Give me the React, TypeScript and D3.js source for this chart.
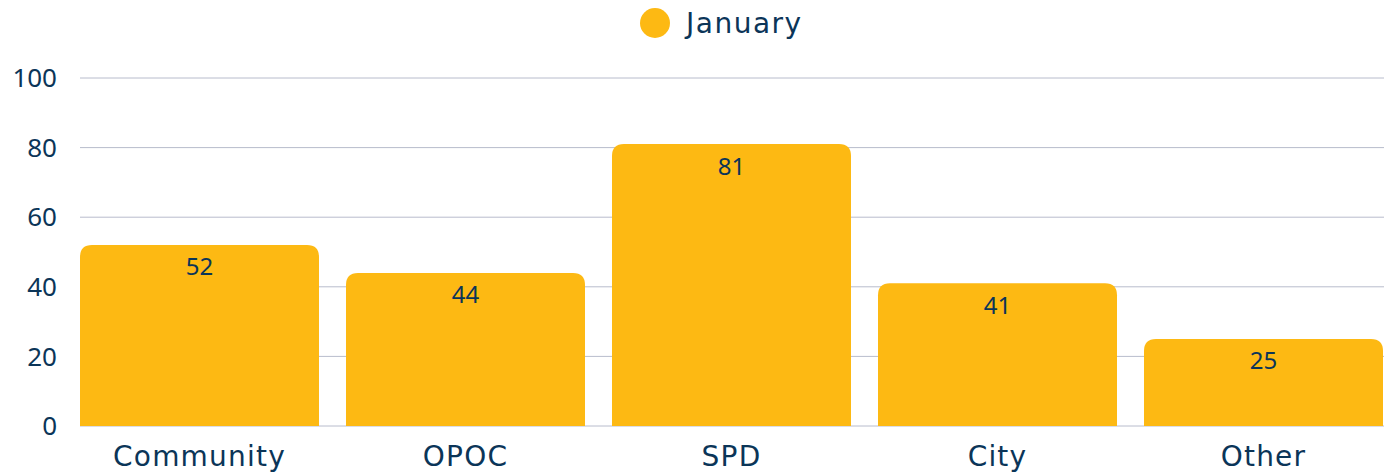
import { useMemo } from "react";
import * as d3 from "d3";

const WIDTH = 1384;
const HEIGHT = 474;
const MARGIN = { top: 78, right: 1, bottom: 48, left: 80 };

const categories = ["Community", "OPOC", "SPD", "City", "Other"];
const januaryValues = [52, 44, 81, 41, 25];
const yTicks = [0, 20, 40, 60, 80, 100];
const seriesName = "January";

const BAR_COLOR = "#FDB913";
const TEXT_COLOR = "#0b3558";
const GRID_COLOR = "#b8bccc";
const FONT = "'Noto Sans', 'Open Sans', sans-serif";
const WIDE_FONT = "'DejaVu Sans', 'Noto Sans', sans-serif";

// path for a bar with only its top corners rounded
const topRoundedBar = (x: number, y: number, w: number, h: number, r: number) => {
  const rr = Math.min(r, w / 2, h);
  return `M${x},${y + h}V${y + rr}Q${x},${y} ${x + rr},${y}H${x + w - rr}Q${x + w},${y} ${x + w},${y + rr}V${y + h}Z`;
};

const App = () => {
  const boundsWidth = WIDTH - MARGIN.left - MARGIN.right;
  const boundsHeight = HEIGHT - MARGIN.top - MARGIN.bottom;

  const xScale = useMemo(
    () =>
      d3
        .scaleBand<string>()
        .domain(categories)
        .range([0, boundsWidth])
        .paddingInner(0.1015)
        .paddingOuter(0),
    [boundsWidth]
  );

  const yScale = useMemo(
    () => d3.scaleLinear().domain([0, 100]).range([boundsHeight, 0]),
    [boundsHeight]
  );

  return (
    <svg
      width={WIDTH}
      height={HEIGHT}
      viewBox={`0 0 ${WIDTH} ${HEIGHT}`}
      style={{ position: "fixed", left: 0, top: 0, background: "#fff" }}
      fontFamily={FONT}
    >
      {/* legend */}
      <g transform="translate(655,23)">
        <circle r={15} fill={BAR_COLOR} />
        <text
          x={31}
          y={0}
          dy="0.35em"
          fontSize={28}
          fontFamily={WIDE_FONT}
          letterSpacing={1.5}
          fill={TEXT_COLOR}
        >
          {seriesName}
        </text>
      </g>

      <g transform={`translate(${MARGIN.left},${MARGIN.top})`}>
        {/* grid + y labels */}
        {yTicks.map((t) => (
          <g key={t} transform={`translate(0,${yScale(t)})`}>
            <line x1={0} x2={boundsWidth + 1} stroke={GRID_COLOR} strokeWidth={1} />
            <text x={-23} dy="0.35em" textAnchor="end" fontSize={26} fill={TEXT_COLOR}>
              {t}
            </text>
          </g>
        ))}

        {/* bars */}
        {categories.map((c, i) => {
          const x = xScale(c) ?? 0;
          const w = xScale.bandwidth();
          const y = yScale(januaryValues[i]);
          const h = boundsHeight - y;
          return (
            <g key={c}>
              <path d={topRoundedBar(x, y, w, h, 12)} fill={BAR_COLOR} />
              <text
                x={x + w / 2}
                y={y + 22}
                dy="0.35em"
                textAnchor="middle"
                fontSize={24}
                fill={TEXT_COLOR}
              >
                {januaryValues[i]}
              </text>
              <text
                x={x + w / 2}
                y={boundsHeight + 30}
                dy="0.35em"
                textAnchor="middle"
                fontSize={28}
                fontFamily={WIDE_FONT}
                letterSpacing={1.2}
                fill={TEXT_COLOR}
              >
                {c}
              </text>
            </g>
          );
        })}
      </g>
    </svg>
  );
};

export default App;
